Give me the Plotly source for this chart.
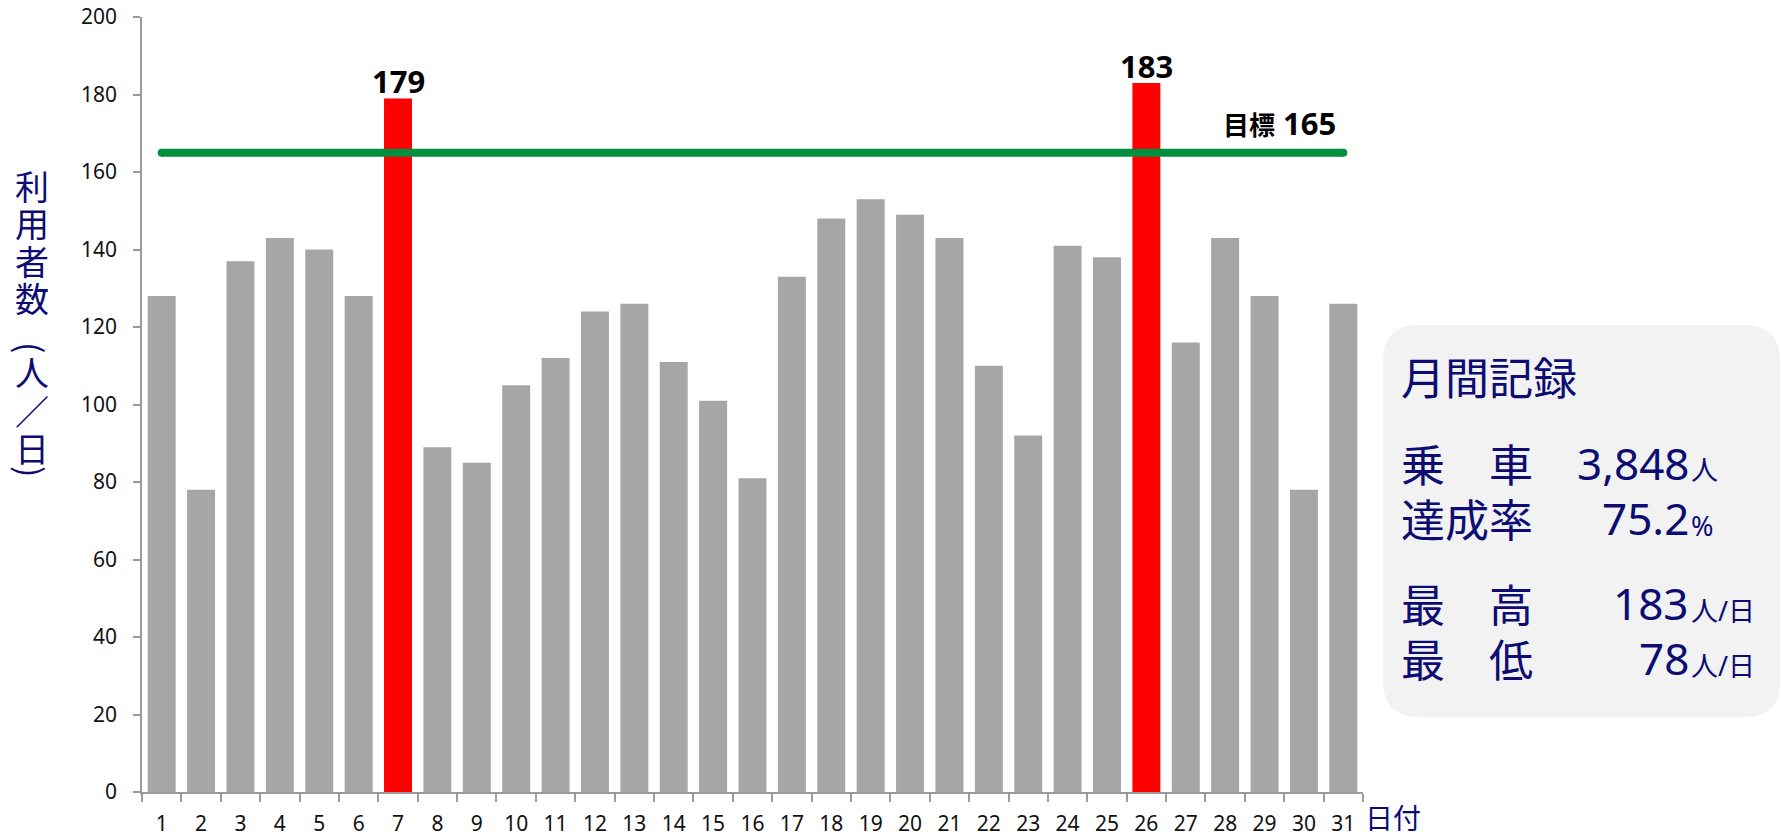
import plotly.graph_objects as go

# daily riders for the month
days = [str(d) for d in range(1, 32)]
riders = [128, 78, 137, 143, 140, 128, 179, 89, 85, 105, 112, 124, 126, 111, 101, 81,
          133, 148, 153, 149, 143, 110, 92, 141, 138, 183, 116, 143, 128, 78, 126]
target = 165

# summary box
summary_title = "月間記録"
summary_labels = ["乗　車", "達成率", "最　高", "最　低"]
summary_values = ["3,848", "75.2", "183", "78"]
summary_units = ["人", "%", "人/日", "人/日"]

# vertical axis title, parentheses are rotated to sit upright
y_title_chars = ["利", "用", "者", "数", "(", "人", "／", "日", ")"]

NAVY = "#0c0c72"
GRAY = "#a6a6a6"
RED = "#ff0000"
GREEN = "#008f3e"
AXIS = "#9a9a9a"
FONT = "Noto Sans, Noto Sans CJK JP"

W, H = 1781, 836
PL, PR, PT, PB = 142, 1363, 17, 792


def px(x):
    return (x - PL) / (PR - PL)


def py(y):
    return (PB - y) / (PB - PT)


colors = [RED if v > target else GRAY for v in riders]

fig = go.Figure()

fig.add_trace(go.Bar(
    x=days, y=riders,
    marker=dict(color=colors, line=dict(width=0)),
    hoverinfo="skip", showlegend=False
))

# target line
fig.add_trace(go.Scatter(
    x=[days[0], days[-1]], y=[target, target],
    mode="lines+markers",
    line=dict(color=GREEN, width=8),
    marker=dict(color=GREEN, size=8),
    hoverinfo="skip", showlegend=False
))

# values above the bars that beat the target (x is the category index)
for i, v in enumerate(riders):
    if v > target:
        fig.add_annotation(
            x=i, y=v, yanchor="bottom", yshift=-6, showarrow=False,
            text=f"<b>{v}</b>", font=dict(family=FONT, size=31, color="black")
        )

fig.add_annotation(
    xref="paper", yref="paper", x=px(1338), y=py(146),
    xanchor="right", yanchor="bottom", showarrow=False,
    text=f"<b><span style='font-size:26px'>目標</span> {target}</b>",
    font=dict(family=FONT, size=31, color="black")
)

ty = [185, 222, 260, 297, 348, 371, 410, 447, 472]
for ch, yy in zip(y_title_chars, ty):
    fig.add_annotation(
        xref="paper", yref="paper", x=px(32), y=py(yy),
        xanchor="center", yanchor="middle", showarrow=False,
        textangle=90 if ch in "()" else 0,
        text=ch, font=dict(family="Noto Sans CJK JP", size=34, color=NAVY)
    )

fig.add_annotation(
    xref="paper", yref="paper", x=px(1363), y=py(817),
    xanchor="left", yanchor="middle", showarrow=False,
    text="日付", font=dict(family="Noto Sans CJK JP", size=28, color=NAVY)
)

# rounded summary box
bx0, bx1, by0, by1, r = 1383, 1780, 325, 717, 36
hw, hh = (bx1 - bx0) / 2, (by1 - by0) / 2
path = (f"M {-hw + r},{-hh} L {hw - r},{-hh} Q {hw},{-hh} {hw},{-hh + r} "
        f"L {hw},{hh - r} Q {hw},{hh} {hw - r},{hh} L {-hw + r},{hh} "
        f"Q {-hw},{hh} {-hw},{hh - r} L {-hw},{-hh + r} Q {-hw},{-hh} {-hw + r},{-hh} Z")
fig.add_shape(
    type="path", xref="paper", yref="paper",
    xsizemode="pixel", ysizemode="pixel",
    xanchor=px((bx0 + bx1) / 2), yanchor=py((by0 + by1) / 2),
    path=path, fillcolor="#f2f2f2", line=dict(width=0), layer="below"
)

fig.add_annotation(
    xref="paper", yref="paper", x=px(1399), y=py(376),
    xanchor="left", yanchor="middle", showarrow=False,
    text=summary_title, font=dict(family="Noto Sans CJK JP", size=44, color=NAVY)
)

rows_y = [463, 518, 603, 658]
for lab, val, unit, yy in zip(summary_labels, summary_values, summary_units, rows_y):
    fig.add_annotation(
        xref="paper", yref="paper", x=px(1399), y=py(yy),
        xanchor="left", yanchor="middle", showarrow=False,
        text=lab, font=dict(family="Noto Sans CJK JP", size=44, color=NAVY)
    )
    fig.add_annotation(
        xref="paper", yref="paper", x=px(1691), y=py(yy),
        xanchor="right", yanchor="middle", showarrow=False,
        text=val, font=dict(family=FONT, size=44, color=NAVY)
    )
    fig.add_annotation(
        xref="paper", yref="paper", x=px(1689), y=py(yy + 7),
        xanchor="left", yanchor="middle", showarrow=False,
        text=unit, font=dict(family=FONT, size=27, color=NAVY)
    )

fig.update_layout(
    width=W, height=H,
    margin=dict(l=PL, r=W - PR, t=PT, b=H - PB),
    paper_bgcolor="white", plot_bgcolor="white",
    bargap=0.29,
    font=dict(family=FONT, size=21, color="#111111"),
    xaxis=dict(
        type="category", range=[-0.5, len(days) - 0.5],
        showgrid=False, zeroline=False, automargin=False,
        showline=True, linecolor=AXIS, linewidth=1.5,
        ticks="outside", tickson="boundaries", ticklen=8, tickcolor=AXIS, tickwidth=1.5,
        ticklabelstandoff=12, tickfont=dict(size=21)
    ),
    yaxis=dict(
        range=[0, 200], dtick=20, showgrid=False, zeroline=False, automargin=False,
        showline=True, linecolor=AXIS, linewidth=1.5,
        ticks="outside", ticklen=7, tickcolor=AXIS, tickwidth=1.5,
        ticklabelstandoff=12, tickfont=dict(size=21)
    )
)

fig.write_html("out.html", config=dict(displayModeBar=False),
               post_script="document.body.style.margin='0';")
